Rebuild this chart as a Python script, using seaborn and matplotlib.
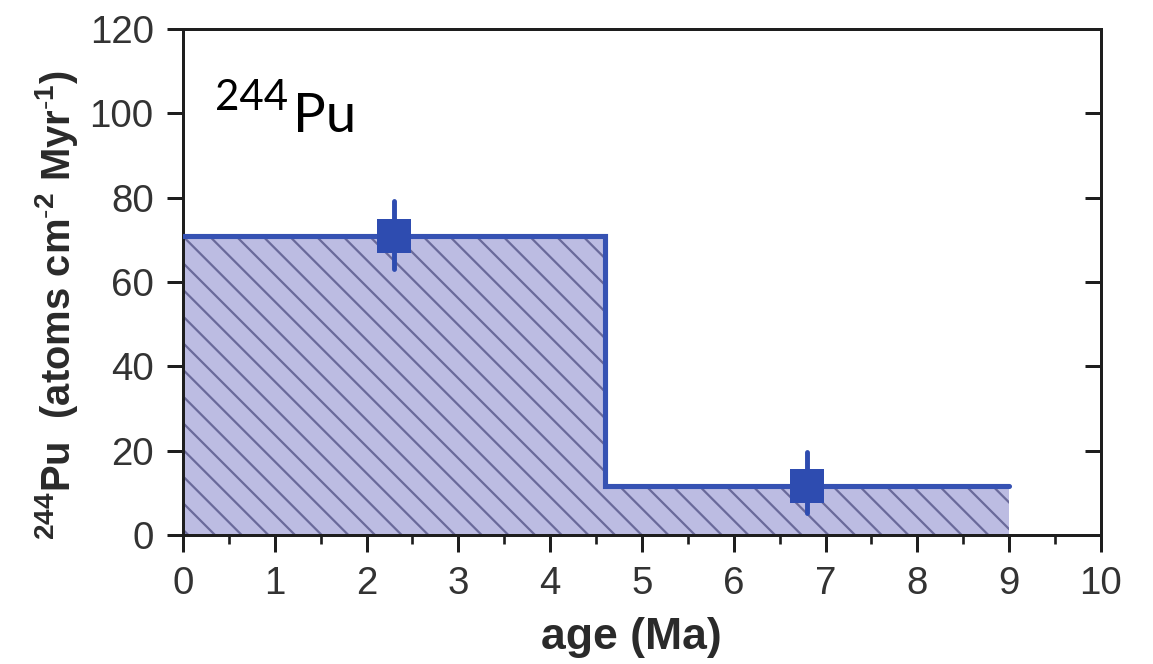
import matplotlib
matplotlib.use("Agg")
import matplotlib.pyplot as plt
import seaborn as sns
import numpy as np

# Deposition-rate histogram: bin edges (Ma) and the rate in each bin
bin_edges = [0.0, 4.6, 9.0]
bin_rates = [71.0, 11.5]

# Measured points with asymmetric uncertainties
point_age = [2.3, 6.8]
point_rate = [71.0, 11.5]
point_err_low = [8.0, 6.3]
point_err_high = [8.2, 8.2]

x_ticks = [0, 1, 2, 3, 4, 5, 6, 7, 8, 9, 10]
y_ticks = [0, 20, 40, 60, 80, 100, 120]

LINE_BLUE = "#3652b3"
MARK_BLUE = "#2e4cb0"
FILL = "#bcbce2"
HATCH = "#6a6a9a"
SPINE = "#1e1e1e"

sns.set_theme(style="ticks")
plt.rcParams["font.family"] = ["Liberation Sans", "DejaVu Sans"]
plt.rcParams["mathtext.fontset"] = "custom"
plt.rcParams["mathtext.rm"] = "Liberation Sans"
plt.rcParams["mathtext.bf"] = "Liberation Sans:bold"
plt.rcParams["mathtext.default"] = "bf"
plt.rcParams["hatch.color"] = HATCH
plt.rcParams["hatch.linewidth"] = 1.0

DPI = 160
fig = plt.figure(figsize=(1153 / DPI, 664 / DPI), dpi=DPI)
ax = fig.add_axes([0.1587, 0.1943, 0.7962, 0.7620])

# step-shaped rate histogram, hatched fill underneath
levels = bin_rates + [bin_rates[-1]]
ax.fill_between(bin_edges, levels, 0, step="post", facecolor=FILL,
                edgecolor=HATCH, linewidth=0, hatch="\\\\", zorder=1)
sns.lineplot(x=bin_edges, y=levels, drawstyle="steps-post", estimator=None,
             sort=False, color=LINE_BLUE, linewidth=2.3, ax=ax, zorder=3,
             solid_capstyle="round", solid_joinstyle="miter")

# data points with vertical error bars
eb = ax.errorbar(point_age, point_rate, yerr=[point_err_low, point_err_high],
                 fmt="none", ecolor=MARK_BLUE, elinewidth=2.2, capsize=0,
                 zorder=4)
for lc in eb[2]:
    lc.set_capstyle("round")
sns.scatterplot(x=point_age, y=point_rate, marker="s", s=15.3 ** 2,
                color=MARK_BLUE, linewidth=0, ax=ax, zorder=5)

ax.set_xlim(0, 10)
ax.set_ylim(0, 120)
ax.set_xticks(x_ticks)
ax.set_xticks(np.arange(0.5, 10, 1.0), minor=True)
ax.set_yticks(y_ticks)

for s in ax.spines.values():
    s.set_linewidth(1.35)
    s.set_color(SPINE)

ax.tick_params(axis="x", which="major", direction="out", length=7.6,
               width=1.35, color=SPINE, pad=6.5, labelsize=17.3,
               labelcolor="#333333")
ax.tick_params(axis="x", which="minor", direction="out", length=4.0,
               width=1.2, color=SPINE)
ax.tick_params(axis="y", which="major", direction="out", length=7.2,
               width=1.35, color=SPINE, pad=6.0, labelsize=17.3,
               labelcolor="#333333", left=True, right=False)

# inward ticks along the right-hand frame
axr = ax.twinx()
axr.set_ylim(ax.get_ylim())
axr.set_yticks(y_ticks)
axr.tick_params(axis="y", direction="in", length=7.2, width=1.35,
                color=SPINE, labelright=False)
for s in axr.spines.values():
    s.set_visible(False)

ax.set_xlabel("age (Ma)", fontsize=20, fontweight="bold", color="#2a2a2a")
ax.xaxis.set_label_coords(0.488, -0.162)
ax.set_ylabel(r"$^{244}$Pu  (atoms cm$^{\text{-}2}$ Myr$^{\text{-}1}$)",
              fontsize=18, fontweight="bold", color="#2a2a2a")
ax.yaxis.set_label_coords(-0.112, 0.455)

# isotope tag in the upper-left corner
ax.text(0.35, 100.8, "244", fontsize=18.9, family=["Lato", "DejaVu Sans"],
        color="black", va="baseline", ha="left")
ax.text(1.20, 95.6, "Pu", fontsize=24.5, family=["Lato", "DejaVu Sans"],
        color="black", va="baseline", ha="left")

fig.savefig("out.png", dpi=DPI)
